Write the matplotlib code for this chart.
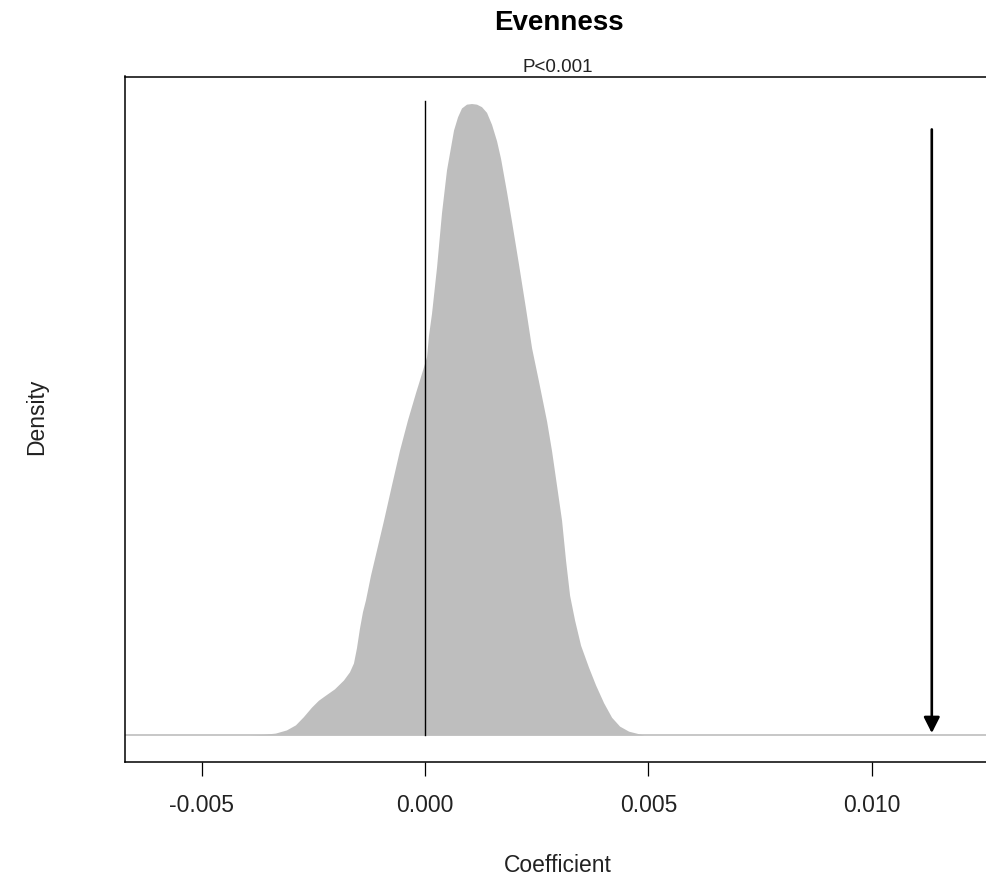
import numpy as np
import matplotlib.pyplot as plt

plt.rcParams['font.family'] = ['Liberation Sans', 'DejaVu Sans']

# density outline: coefficient (x 0.001) and density relative to the peak
coef = np.array([-3.952, -3.616, -3.347, -3.101, -2.899, -2.721, -2.541, -2.385,
                 -2.228, -2.027, -1.825, -1.690, -1.601, -1.534, -1.467, -1.400,
                 -1.332, -1.220, -1.086, -0.929, -0.750, -0.571, -0.392, -0.213,
                 -0.056, 0.034, 0.078, 0.146, 0.258, 0.369, 0.481, 0.571,
                 0.638, 0.728, 0.817, 0.929, 1.041, 1.153, 1.265, 1.377,
                 1.489, 1.601, 1.691, 1.825, 1.937, 2.094, 2.251, 2.385,
                 2.541, 2.721, 2.832, 2.944, 3.056, 3.146, 3.236, 3.347,
                 3.482, 3.661, 3.818, 3.997, 4.176, 4.355, 4.557, 4.893]) * 0.001
density = np.array([0.000, 0.001, 0.003, 0.008, 0.016, 0.029, 0.044, 0.055,
                    0.063, 0.073, 0.087, 0.100, 0.114, 0.138, 0.169, 0.195,
                    0.214, 0.253, 0.293, 0.340, 0.396, 0.451, 0.499, 0.542,
                    0.578, 0.599, 0.633, 0.668, 0.741, 0.827, 0.895, 0.931,
                    0.958, 0.979, 0.993, 0.999, 1.000, 0.999, 0.995, 0.986,
                    0.967, 0.941, 0.913, 0.860, 0.813, 0.745, 0.675, 0.613,
                    0.560, 0.497, 0.450, 0.395, 0.340, 0.276, 0.221, 0.182,
                    0.142, 0.107, 0.079, 0.051, 0.028, 0.014, 0.006, 0.000])

observed = 0.01134
xticks = [-0.005, 0.0, 0.005, 0.010]
xticklabels = ['-0.005', '0.000', '0.005', '0.010']

fig = plt.figure(figsize=(9.87, 8.77), dpi=100)
ax = fig.add_axes([125 / 987, 1 - 762 / 877, 866 / 987, (762 - 76.5) / 877])

peak = density.max()
ax.fill_between(coef, 0, density, color='#bebebe', linewidth=0)
ax.axhline(0, color='#bebebe', linewidth=1.2)
ax.plot([0, 0], [0, peak * 1.004], color='black', linewidth=1.0)
ax.annotate('', xy=(observed, peak * 0.003), xytext=(observed, peak * 0.959),
            arrowprops=dict(arrowstyle='-|>,head_length=0.95,head_width=0.48',
                            color='black', lw=1.9, shrinkA=0, shrinkB=0))

ax.set_xlim(-0.006713, 0.012665)
ax.set_ylim(-0.0428 * peak, 1.0428 * peak)
ax.set_xticks(xticks)
ax.set_xticklabels(xticklabels, fontsize=16.5, color='#222222')
ax.set_yticks([])
ax.tick_params(axis='x', length=10, width=0.9, pad=13)
for side in ['top', 'left', 'bottom', 'right']:
    ax.spines[side].set_linewidth(1.1)

fig.text(559 / 987, 1 - 30 / 877, 'Evenness', ha='center', va='baseline',
         fontsize=20, fontweight='bold')
fig.text(558 / 987, 1 - 72 / 877, 'P<0.001', ha='center', va='baseline',
         fontsize=13.5, color='#222222')
fig.text(558 / 987, 1 - 872 / 877, 'Coefficient', ha='center', va='baseline',
         fontsize=16.5, color='#222222')
fig.text(37 / 987, 1 - 417 / 877, 'Density', ha='center', va='center',
         rotation=90, fontsize=16.5, color='#222222')

fig.savefig('out.png', dpi=100)
